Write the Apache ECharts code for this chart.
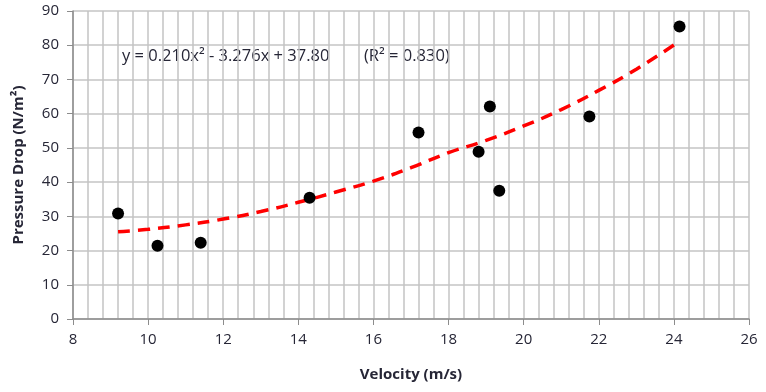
<!DOCTYPE html>
<html>
<head>
<meta charset="utf-8">
<script src="https://cdn.jsdelivr.net/npm/echarts@6/dist/echarts.min.js"></script>
<style>
  html, body { margin: 0; padding: 0; background: #fff; }
  #chart { width: 766px; height: 392px; }
</style>
</head>
<body>
<div id="chart"></div>
<script>
// measured points
const velocity = [9.2, 10.25, 11.4, 14.3, 17.2, 18.8, 19.1, 19.35, 21.75, 24.15];
const pressureDrop = [30.8, 21.4, 22.3, 35.4, 54.5, 48.9, 62.1, 37.5, 59.2, 85.5];

// trend curve
const trendX = [9.2, 10, 11, 12, 13, 14, 15, 16, 17, 18, 19, 20, 21, 22, 23, 24.1];
const trendY = [25.5, 26.2, 27.5, 29.2, 31.4, 34.1, 37.1, 40.3, 44.2, 48.6, 52.2, 56.4, 61.2, 66.8, 73.0, 80.8];

const equationText = 'y = 0.210x² - 3.276x + 37.80';
const r2Text = '(R² = 0.830)';

const chart = echarts.init(document.getElementById('chart'));
const font = "'Open Sans', 'Liberation Sans', sans-serif";
const gridColor = '#c4c4c4';
const axisColor = '#8c8c8c';
const textColor = '#262636';

const option = {
  animation: false,
  grid: { left: 73, right: 17, top: 11, bottom: 73 },
  xAxis: {
    type: 'value',
    min: 8, max: 26, interval: 2,
    name: 'Velocity (m/s)',
    nameLocation: 'middle',
    nameGap: 48,
    nameTextStyle: { fontFamily: font, fontWeight: 'bold', fontSize: 15, color: textColor },
    axisLine: { show: true, lineStyle: { color: axisColor, width: 1.5 } },
    axisTick: { show: true, length: 6, lineStyle: { color: axisColor } },
    axisLabel: { fontFamily: font, fontSize: 15, color: textColor, margin: 13 },
    splitLine: { show: true, lineStyle: { color: gridColor, width: 1.5 } },
    minorTick: { show: false, splitNumber: 5 },
    minorSplitLine: { show: true, lineStyle: { color: gridColor, width: 1.5 } }
  },
  yAxis: {
    type: 'value',
    min: 0, max: 90, interval: 10,
    name: 'Pressure Drop (N/m²)',
    nameLocation: 'middle',
    nameGap: 47,
    nameTextStyle: { fontFamily: font, fontWeight: 'bold', fontSize: 15, color: textColor },
    axisLine: { show: true, lineStyle: { color: axisColor, width: 1.5 } },
    axisTick: { show: true, length: 6, lineStyle: { color: axisColor } },
    axisLabel: { fontFamily: font, fontSize: 15, color: textColor, margin: 14 },
    splitLine: { show: true, lineStyle: { color: gridColor, width: 1.5 } }
  },
  graphic: [
    {
      type: 'text', left: 122, top: 48,
      style: { text: equationText, fontFamily: font, fontSize: 16.5, fill: textColor }
    },
    {
      type: 'text', left: 364, top: 48,
      style: { text: r2Text, fontFamily: font, fontSize: 16.5, fill: textColor }
    }
  ],
  series: [
    {
      type: 'line',
      data: trendX.map((x, i) => [x, trendY[i]]),
      smooth: true,
      showSymbol: false,
      lineStyle: { color: '#ff0000', width: 3.5, type: [12, 8] },
      z: 2
    },
    {
      type: 'scatter',
      data: velocity.map((x, i) => [x, pressureDrop[i]]),
      symbolSize: 12,
      itemStyle: { color: '#000', opacity: 1 },
      z: 3
    }
  ]
};

chart.setOption(option);
</script>
</body>
</html>
